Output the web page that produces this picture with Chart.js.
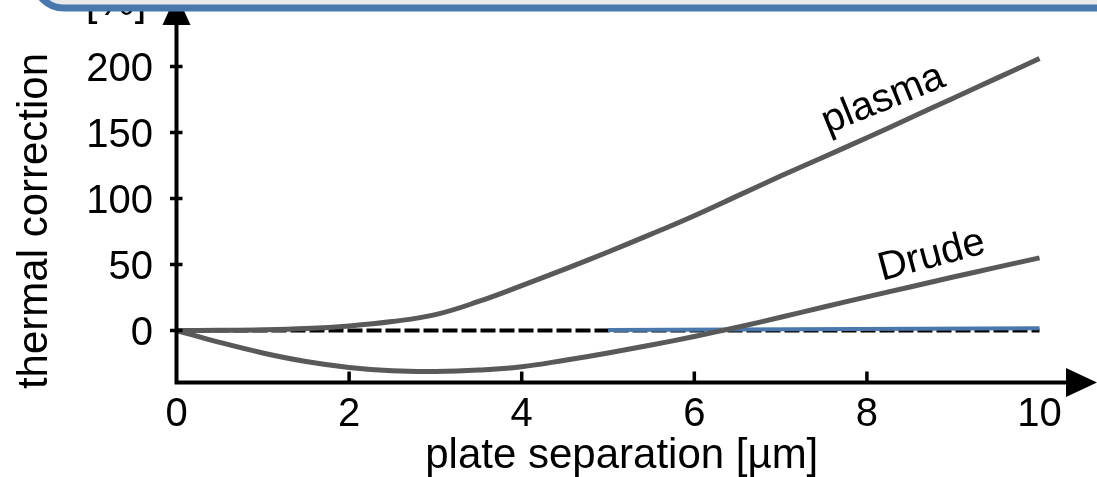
<!DOCTYPE html>
<html>
<head>
<meta charset="utf-8">
<script src="https://cdn.jsdelivr.net/npm/chart.js"></script>
<style>
  html, body { margin: 0; padding: 0; background: #fff; }
  canvas { display: block; }
</style>
</head>
<body>
<canvas id="chart" width="1097" height="477"></canvas>
<script>
// values
var sepX = [0, 0.5, 1, 1.5, 2, 2.5, 3, 3.5, 4, 4.5, 5, 5.5, 6, 6.5, 7, 7.5, 8, 8.5, 9, 9.5, 10];
var plasmaY = [0, 0.1, 0.5, 1.5, 3.5, 6.8, 12, 22, 34, 46.5, 59.5, 73, 87, 102, 117, 131.5, 146, 161, 176, 191, 206];
var drudeY = [0, -9, -17, -23.5, -28, -30.5, -31, -30, -27.5, -22.5, -17, -11, -4.5, 2.5, 10, 17.8, 25.5, 33, 40.5, 47.8, 55];
var blueX = [5, 10];
var blueY = [0.4, 1.7];
var zeroX = [0, 10];
var zeroY = [0, 0];
var xTicks = [0, 2, 4, 6, 8, 10];
var yTicks = [0, 50, 100, 150, 200];

var xTitle = 'plate separation [µm]';
var yTitle = 'thermal correction';
var yUnit = '[%]';
var curveLabels = [
  { text: 'plasma', x: 8.19, y: 175, angle: -22 },
  { text: 'Drude', x: 8.75, y: 56.4, angle: -15 }
];

function pts(xs, ys) {
  return xs.map(function (x, i) { return { x: x, y: ys[i] }; });
}

var FONT = '"Liberation Sans", Arial, sans-serif';

var decor = {
  id: 'decor',
  afterDatasetsDraw: function (chart) {
    var ctx = chart.ctx;
    var xs = chart.scales.x, ys = chart.scales.y;
    var area = chart.chartArea;
    var ox = xs.getPixelForValue(0);
    var oy = area.bottom;
    var xEnd = chart.width;
    var yEnd = -6;

    ctx.save();
    ctx.strokeStyle = '#000';
    ctx.fillStyle = '#000';
    ctx.lineWidth = 4;

    // axes
    ctx.beginPath();
    ctx.moveTo(ox - 2, oy);
    ctx.lineTo(xEnd - 28, oy);
    ctx.moveTo(ox, oy + 2);
    ctx.lineTo(ox, yEnd + 28);
    ctx.stroke();

    // arrows
    ctx.beginPath();
    ctx.moveTo(xEnd, oy);
    ctx.lineTo(xEnd - 31, oy - 14.5);
    ctx.lineTo(xEnd - 31, oy + 14.5);
    ctx.closePath();
    ctx.fill();
    ctx.beginPath();
    ctx.moveTo(ox, yEnd);
    ctx.lineTo(ox - 14, yEnd + 31);
    ctx.lineTo(ox + 14, yEnd + 31);
    ctx.closePath();
    ctx.fill();

    // ticks
    ctx.lineWidth = 3.5;
    ctx.beginPath();
    xTicks.forEach(function (v) {
      if (v === 0 || v === 10) return;
      var px = xs.getPixelForValue(v);
      ctx.moveTo(px, oy);
      ctx.lineTo(px, oy - 11);
    });
    yTicks.forEach(function (v) {
      var py = ys.getPixelForValue(v);
      ctx.moveTo(ox - 6.5, py);
      ctx.lineTo(ox + 6, py);
    });
    ctx.stroke();

    // tick labels
    ctx.font = '40px ' + FONT;
    ctx.textBaseline = 'alphabetic';
    ctx.textAlign = 'center';
    xTicks.forEach(function (v) {
      ctx.fillText(String(v), xs.getPixelForValue(v), 426);
    });
    ctx.textAlign = 'right';
    yTicks.forEach(function (v) {
      ctx.fillText(String(v), 153, ys.getPixelForValue(v) + 14);
    });

    // axis titles
    ctx.font = '42px ' + FONT;
    ctx.textAlign = 'center';
    ctx.fillText(xTitle, (ox + xEnd - 30) / 2, 468);
    ctx.fillText(yUnit, 116, 15);
    ctx.save();
    ctx.translate(47, 221);
    ctx.rotate(-Math.PI / 2);
    ctx.fillText(yTitle, 0, 0);
    ctx.restore();

    // curve labels
    ctx.font = '40px ' + FONT;
    ctx.textBaseline = 'middle';
    curveLabels.forEach(function (l) {
      ctx.save();
      ctx.translate(xs.getPixelForValue(l.x), ys.getPixelForValue(l.y));
      ctx.rotate(l.angle * Math.PI / 180);
      ctx.fillText(l.text, 0, 0);
      ctx.restore();
    });

    // rounded box at the top edge
    ctx.beginPath();
    ctx.roundRect(34, -80, 1200, 88, 30);
    ctx.fillStyle = '#e9e9ec';
    ctx.fill();
    ctx.lineWidth = 7;
    ctx.strokeStyle = '#4a78ad';
    ctx.stroke();
    ctx.restore();
  }
};

// first dataset ends up on top
new Chart(document.getElementById('chart'), {
  type: 'line',
  data: {
    datasets: [
      {
        data: pts(sepX, plasmaY),
        borderColor: '#595959',
        borderWidth: 5,
        tension: 0.4,
        pointRadius: 0
      },
      {
        data: pts(sepX, drudeY),
        borderColor: '#595959',
        borderWidth: 5,
        tension: 0.4,
        pointRadius: 0
      },
      {
        data: pts(blueX, blueY),
        borderColor: '#4a78ad',
        borderWidth: 4,
        pointRadius: 0
      },
      {
        data: pts(zeroX, zeroY),
        borderColor: '#000',
        borderWidth: 4,
        borderDash: [15, 4],
        pointRadius: 0
      }
    ]
  },
  options: {
    responsive: false,
    animation: false,
    devicePixelRatio: 1,
    layout: { padding: { left: 176.5, right: 0, top: 0, bottom: 94.5 } },
    plugins: { legend: { display: false }, tooltip: { enabled: false } },
    scales: {
      x: { type: 'linear', min: 0, max: 10.666, display: false },
      y: { type: 'linear', min: -39.39, max: 250.38, display: false }
    }
  },
  plugins: [decor]
});
</script>
</body>
</html>
